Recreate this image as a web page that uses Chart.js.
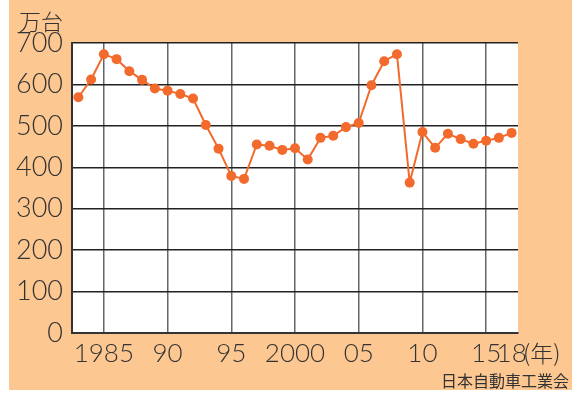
<!DOCTYPE html>
<html>
<head>
<meta charset="utf-8">
<script src="https://cdn.jsdelivr.net/npm/chart.js@4"></script>
<style>
  html, body { margin: 0; padding: 0; background: #fff; }
  #wrap { width: 572px; height: 400px; position: relative; }
</style>
</head>
<body>
<div id="wrap"><canvas id="chart" width="572" height="400"></canvas></div>
<script>
// 軸の目盛ラベル (空文字は表示しない)
const xLabels = ['', '', '1985', '', '', '', '', '90', '', '', '', '', '95', '', '', '', '', '2000',
  '', '', '', '', '05', '', '', '', '', '10', '', '', '', '', '15', '', '18'];
// 輸出台数 (万台)
const exportsValues = [569, 612, 673, 661, 632, 611, 590, 585, 577, 566, 502, 445, 379, 372,
  455, 452, 442, 446, 419, 471, 476, 497, 507, 598, 656, 673, 363, 485, 447, 481, 468, 457,
  464, 471, 483];
const yTicks = [0, 100, 200, 300, 400, 500, 600, 700];

const numFont = "'Lato', 'Open Sans', sans-serif";
const jpFont = "'Noto Sans CJK JP', sans-serif";

// 背景と注記テキスト
const decor = {
  id: 'decor',
  beforeDraw(chart) {
    const c = chart.ctx;
    c.save();
    c.fillStyle = '#fff';
    c.fillRect(0, 0, chart.width, chart.height);
    c.fillStyle = '#fcc790';
    c.fillRect(9, 0, chart.width - 9, 390);
    const a = chart.chartArea;
    c.fillStyle = '#fff';
    c.fillRect(a.left, a.top, a.right - a.left, a.bottom - a.top);
    c.restore();
  },
  afterDraw(chart) {
    const c = chart.ctx;
    c.save();
    c.fillStyle = '#333';
    c.textBaseline = 'alphabetic';
    c.font = '300 22px ' + jpFont;
    c.textAlign = 'left';
    c.fillText('万台', 19, 30);
    c.font = '300 23px ' + jpFont;
    c.fillText('(年)', 523, 362);
    c.font = '16px ' + jpFont;
    c.textAlign = 'right';
    c.fillText('日本自動車工業会', 569, 387);
    c.restore();
  }
};

const ctx = document.getElementById('chart').getContext('2d');
const chart = new Chart(ctx, {
  type: 'line',
  data: {
    labels: xLabels,
    datasets: [{
      data: exportsValues,
      borderColor: '#f26a2c',
      backgroundColor: '#f26a2c',
      borderWidth: 2,
      pointRadius: 5,
      pointHoverRadius: 5,
      pointBorderWidth: 0,
      tension: 0
    }]
  },
  options: {
    responsive: false,
    animation: false,
    layout: { padding: { left: 9, top: 43, right: 54, bottom: 0 } },
    plugins: { legend: { display: false }, tooltip: { enabled: false } },
    scales: {
      x: {
        offset: true,
        afterFit: s => { s.height = 67; },
        border: { color: '#333', width: 2 },
        grid: {
          drawTicks: false,
          offset: false,
          lineWidth: 1.5,
          color: c => (xLabels[c.index] && c.index < xLabels.length - 1) ? '#666' : 'rgba(0,0,0,0)'
        },
        ticks: {
          autoSkip: false,
          maxRotation: 0,
          padding: 5,
          color: '#333',
          font: { family: numFont, size: 26, weight: '300' }
        }
      },
      y: {
        min: 0,
        max: 700,
        afterFit: s => { s.width = 63; },
        afterBuildTicks: s => { s.ticks = yTicks.map(v => ({ value: v })); },
        border: { color: '#333', width: 2 },
        grid: { drawTicks: false, color: '#222', lineWidth: 1.5 },
        ticks: {
          padding: 9,
          color: '#333',
          font: { family: numFont, size: 27, weight: '300' }
        }
      }
    }
  },
  plugins: [decor]
});
</script>
</body>
</html>
